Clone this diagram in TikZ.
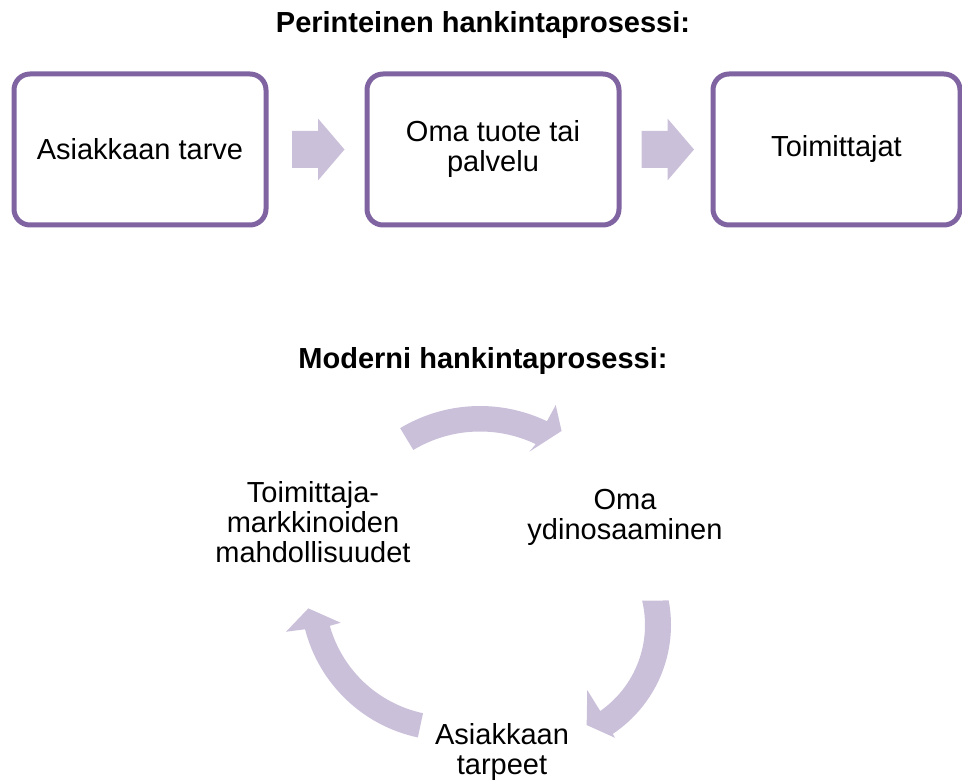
\documentclass[tikz,border=0pt]{standalone}
\usepackage{fontspec}
\setmainfont{Liberation Sans}
\usetikzlibrary{calc}
\definecolor{boxline}{HTML}{8064A2}
\definecolor{arrowfill}{HTML}{CBC0DA}
\newcommand{\bodysize}{\fontsize{29}{30}\selectfont}
\begin{document}
\begin{tikzpicture}[x=1pt, y=-1pt,
  stepbox/.style={draw=boxline, line width=5pt, rounded corners=16pt,
    minimum height=151pt, outer sep=0pt, align=center, font=\bodysize},
  heading/.style={font=\bodysize\bfseries, inner sep=0pt},
  cyctext/.style={align=center, font=\bodysize, inner sep=0pt},
  blockarrow/.style={fill=arrowfill},
  cyclearrow/.style={fill=arrowfill}]
\useasboundingbox (0,0) rectangle (962,783);

% ---- traditional process: three steps in a row ----
\node[heading, anchor=base] (t1) at (483,33) {Perinteinen hankintaprosessi:};

\node[stepbox, minimum width=252pt] (b1) at (140,149.5) {Asiakkaan tarve};
\node[stepbox, minimum width=252pt] (b2) at (493,149.5) {Oma tuote tai\\palvelu};
\node[stepbox, minimum width=247pt] (b3) at (836.5,149.5) {Toimittajat};

\coordinate (m1) at ($(b1.east)!0.5!(b2.west)$);
\coordinate (m2) at ($(b2.east)!0.5!(b3.west)$);
\foreach \m in {m1,m2}{
  \fill[blockarrow] ($(\m)+(-24.5,-18.5)$) -- ($(\m)+(1.5,-18.5)$)
    -- ($(\m)+(1.5,-31)$) -- ($(\m)+(28,0)$) -- ($(\m)+(1.5,31)$)
    -- ($(\m)+(1.5,18.5)$) -- ($(\m)+(-24.5,18.5)$) -- cycle;
}

% ---- modern process: three labels joined by curved arrows ----
\node[heading, anchor=base] (t2) at (483,369) {Moderni hankintaprosessi:};

\node[cyctext] (n1) at (313,522) {Toimittaja-\\markkinoiden\\mahdollisuudet};
\node[cyctext] (n2) at (625,517.5) {Oma\\ydinosaaminen};
\node[cyctext] (n3) at (502,752) {Asiakkaan\\tarpeet};

\coordinate (cT) at (480,561);
\coordinate (cR) at (540,625);
\coordinate (cL) at (448.7,592.4);

% top arrow: n1 -> n2
\fill[cyclearrow] ($(cT)+(239:155)$) arc[start angle=239, end angle=295.6, radius=155]
  -- ($(cT)+(295.9:173.4)$) -- ($(cT)+(302.1:153.5)$) -- ($(cT)+(294.3:119.9)$)
  -- ($(cT)+(295.5:129.5)$) arc[start angle=295.5, end angle=239, radius=129.5] -- cycle;

% right arrow: n2 -> n3
\fill[cyclearrow] ($(cR)+(-10.8:131)$) arc[start angle=-10.8, end angle=56.2, radius=131]
  -- ($(cR)+(56.4:135.4)$) -- ($(cR)+(65:110.4)$) -- ($(cR)+(54:80.4)$)
  -- ($(cR)+(55:105)$) arc[start angle=55, end angle=-13.4, radius=105] -- cycle;

% left arrow: n3 -> n1
\fill[cyclearrow] ($(cL)+(102:148.3)$) arc[start angle=102, end angle=165.6, radius=148.3]
  -- ($(cL)+(166.4:167.4)$) -- ($(cL)+(173.5:141.3)$) -- ($(cL)+(164.3:112.2)$)
  -- ($(cL)+(164.3:123.5)$) arc[start angle=164.3, end angle=102, radius=123.5] -- cycle;
\end{tikzpicture}
\end{document}
